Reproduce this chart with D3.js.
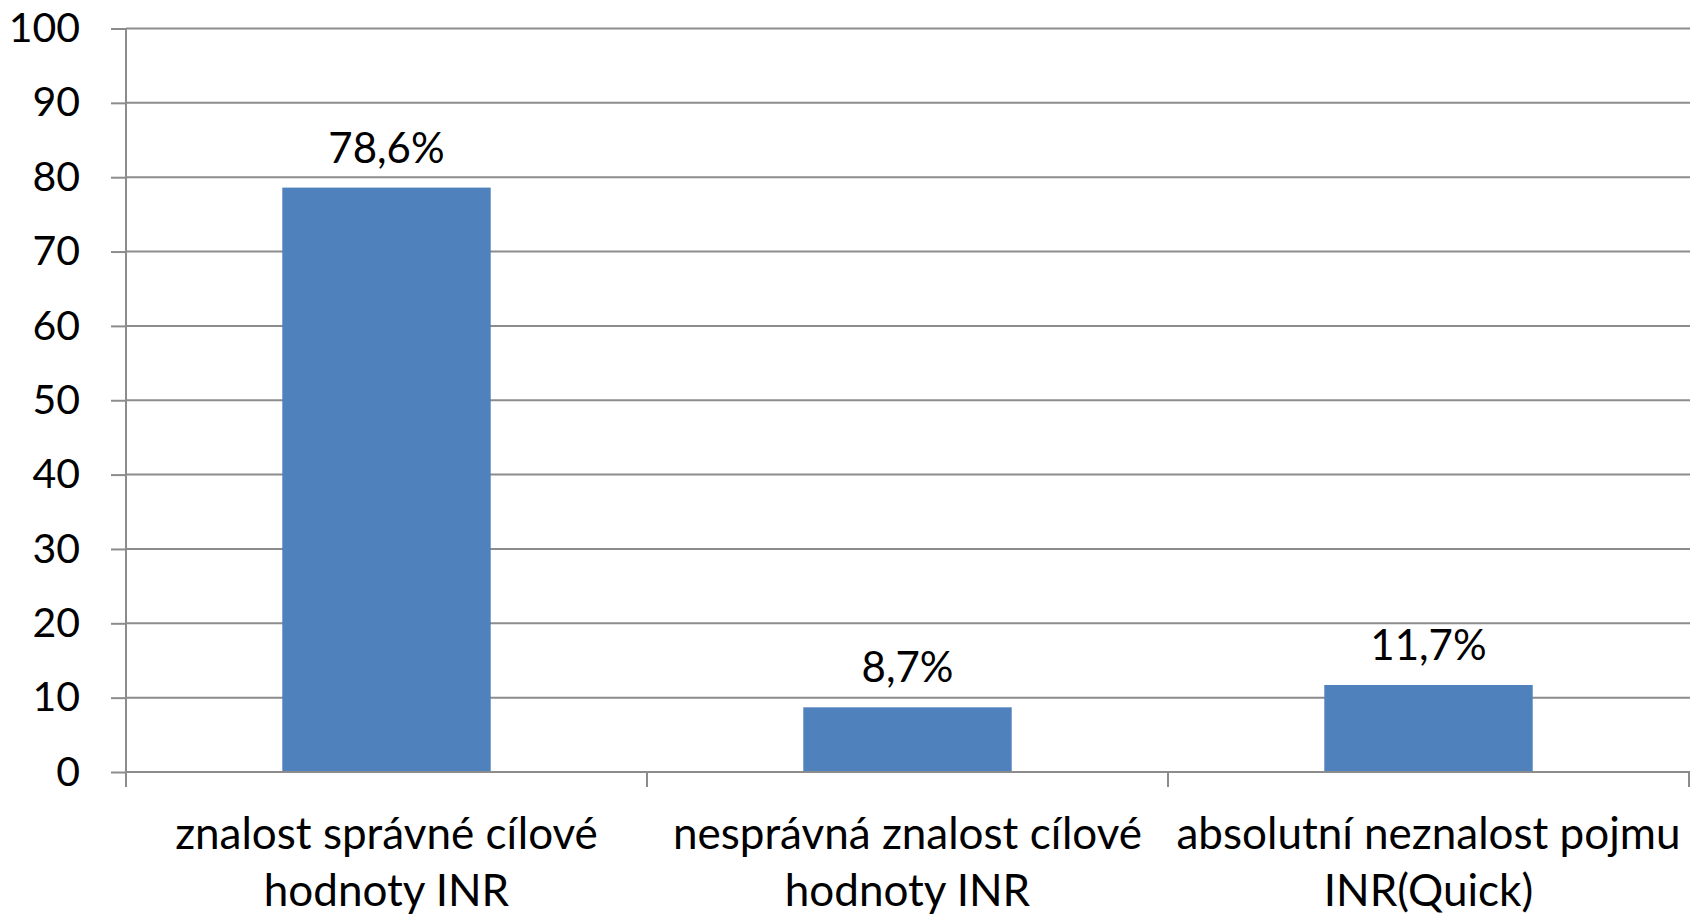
<!DOCTYPE html>
<html>
<head>
<meta charset="utf-8">
<script src="https://cdn.jsdelivr.net/npm/d3@7"></script>
<style>
  html, body { margin: 0; padding: 0; background: #fff; }
  svg { display: block; }
  text { font-family: Lato, "Open Sans", sans-serif; fill: #000; }
</style>
</head>
<body>
<svg id="chart" width="1690" height="914"></svg>
<script>
const categories = [
  ["znalost správné cílové", "hodnoty INR"],
  ["nesprávná znalost cílové", "hodnoty INR"],
  ["absolutní neznalost pojmu", "INR(Quick)"]
];
const values = [78.6, 8.7, 11.7];
const valueLabels = ["78,6%", "8,7%", "11,7%"];
const yTicks = [0, 10, 20, 30, 40, 50, 60, 70, 80, 90, 100];

(function () {
const svg = d3.select("#chart");
const mLeft = 126, mRight = 1689, mTop = 28.5, mBottom = 772;
const gridColor = "#8c8c8c";

const x = d3.scaleBand()
  .domain(d3.range(categories.length))
  .range([mLeft, mRight])
  .paddingInner(0.6)
  .paddingOuter(0.3);
const xCat = d3.scaleBand()
  .domain(d3.range(categories.length))
  .range([mLeft, mRight])
  .padding(0);
const y = d3.scaleLinear().domain([0, 100]).range([mBottom, mTop]);

// gridlines
svg.append("g").selectAll("line").data(yTicks.filter(d => d > 0)).join("line")
  .attr("x1", mLeft).attr("x2", 1690)
  .attr("y1", d => y(d)).attr("y2", d => y(d))
  .attr("stroke", gridColor).attr("stroke-width", 2);

// bars
svg.append("g").selectAll("rect").data(values).join("rect")
  .attr("x", (d, i) => x(i))
  .attr("width", x.bandwidth())
  .attr("y", d => y(d))
  .attr("height", d => y(0) - y(d))
  .attr("fill", "#4f81bd");

// y axis
const yAxis = svg.append("g").attr("transform", `translate(${mLeft},0)`)
  .call(d3.axisLeft(y).tickValues(yTicks).tickSize(15).tickPadding(31).tickFormat(d3.format("d")));
yAxis.select(".domain").attr("stroke", gridColor).attr("stroke-width", 2)
  .attr("d", `M0,${mTop}V${mBottom + 15}`);
yAxis.selectAll(".tick line").attr("stroke", gridColor).attr("stroke-width", 2);
yAxis.selectAll(".tick text").attr("font-size", 41).attr("font-family", "Lato, 'Open Sans', sans-serif").attr("fill", "#000");

// x axis
const xAxisG = svg.append("g").attr("transform", `translate(0,${mBottom})`);
xAxisG.append("line").attr("x1", mLeft).attr("x2", mRight + 1).attr("y1", 0).attr("y2", 0)
  .attr("stroke", gridColor).attr("stroke-width", 2);
const boundaries = d3.range(categories.length + 1).map(i => i < categories.length ? xCat(i) : xCat(i - 1) + xCat.bandwidth());
xAxisG.selectAll("line.tick").data(boundaries).join("line").attr("class", "tick")
  .attr("x1", d => d).attr("x2", d => d).attr("y1", 0).attr("y2", 15)
  .attr("stroke", gridColor).attr("stroke-width", 2);

// category labels
const catG = svg.append("g");
categories.forEach((lines, i) => {
  const cx = xCat(i) + xCat.bandwidth() / 2;
  const t = catG.append("text").attr("text-anchor", "middle").attr("font-size", 44);
  lines.forEach((ln, j) => {
    t.append("tspan").attr("x", cx).attr("y", 849 + j * 57).text(ln);
  });
});

// value labels
svg.append("g").selectAll("text").data(values).join("text")
  .attr("x", (d, i) => x(i) + x.bandwidth() / 2)
  .attr("y", d => y(d) - 25)
  .attr("text-anchor", "middle")
  .attr("font-size", 42)
  .text((d, i) => valueLabels[i]);
})();
</script>
</body>
</html>
